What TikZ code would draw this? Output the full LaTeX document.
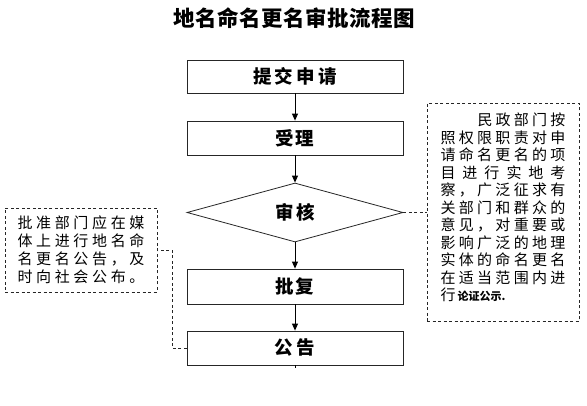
\documentclass[tikz,border=0pt]{standalone}
\usepackage{fontspec}
\setmainfont{Noto Sans CJK SC}
\usetikzlibrary{shapes.geometric,arrows.meta}
\def\spx#1#2\spend{#1\ifx\relax#2\relax\else\hfill\spx#2\spend\fi}
\newcommand\spr[2]{\hbox to #1{\spx#2\spend}}
\tikzset{
  stepbox/.style={draw=black!85,line width=0.8pt,rectangle,minimum width=216pt,inner sep=0pt,
    font=\fontsize{18.5}{20}\selectfont\bfseries},
  decide/.style={draw=black!85,line width=0.8pt,diamond,minimum width=216pt,minimum height=59pt,inner sep=0pt,
    font=\fontsize{18.5}{20}\selectfont\bfseries},
  note/.style={draw=black!85,line width=0.8pt,dash pattern=on 3pt off 2.5pt,rectangle,inner sep=0pt,
    font=\fontsize{15}{17.5}\selectfont},
  arr/.style={draw=black,line width=0.9pt,-{Triangle[length=7pt,width=6pt]}},
  dline/.style={draw=black!85,line width=0.8pt,dash pattern=on 3pt off 2.5pt},
}
\begin{document}
\begin{tikzpicture}[x=1pt,y=-1pt]
\useasboundingbox[fill=white] (0,0) rectangle (587,406);
\node (title) at (294,18) {\fontsize{21.5}{22}\selectfont\bfseries\spr{242pt}{地名命名更名审批流程图}};
\node[stepbox,minimum height=33pt] (s1) at (295,76.5) {\spr{84pt}{提交申请}};
\node[stepbox,minimum height=34pt] (s2) at (295,138) {\spr{39pt}{受理}};
\node[decide] (d) at (295,212.5) {\spr{40pt}{审核}};
\node[stepbox,minimum height=35pt] (s3) at (295,286.5) {\spr{39pt}{批复}};
\node[stepbox,minimum height=34pt] (s4) at (295,348) {\spr{41pt}{公告}};
\draw[arr] (s1) -- (s2);
\draw[arr] (s2) -- (d);
\draw[arr] (d) -- (s3);
\draw[arr] (s3) -- (s4);
\coordinate (stub) at (295,368.5);
\draw[black,line width=0.9pt] (s4.south) -- (stub);
\node[note,minimum width=152pt,minimum height=218pt] (rn) at (503,212.5) {\parbox{125pt}{%
\hbox to 125pt{\hfill\spr{88pt}{民政部门按}}
\spr{125pt}{照权限职责对申}
\spr{125pt}{请命名更名的项}
\spr{125pt}{目进行实地考}
\spr{125pt}{察，广泛征求有}
\spr{125pt}{关部门和群众的}
\spr{125pt}{意见，对重要或}
\spr{125pt}{影响广泛的地理}
\spr{125pt}{实体的命名更名}
\spr{125pt}{在适当范围内进}
\hbox to 125pt{行\hspace{2pt}{\fontsize{11}{11}\selectfont\bfseries 论证公示.}\hfill}
\vspace*{10pt}}};
\node[note,minimum width=152pt,minimum height=84pt] (ln) at (81,250) {\parbox{127pt}{\fontsize{15}{18}\selectfont
\spr{127pt}{批准部门应在媒}
\spr{127pt}{体上进行地名命}
\spr{127pt}{名更名公告，及}
\spr{127pt}{时向社会公布。}}};
\draw[dline] (d.east) -- (rn.west);
\coordinate (bend) at (172,348);
\draw[dline] (s4.west) -- (bend) |- (ln.east);
\end{tikzpicture}
\end{document}
